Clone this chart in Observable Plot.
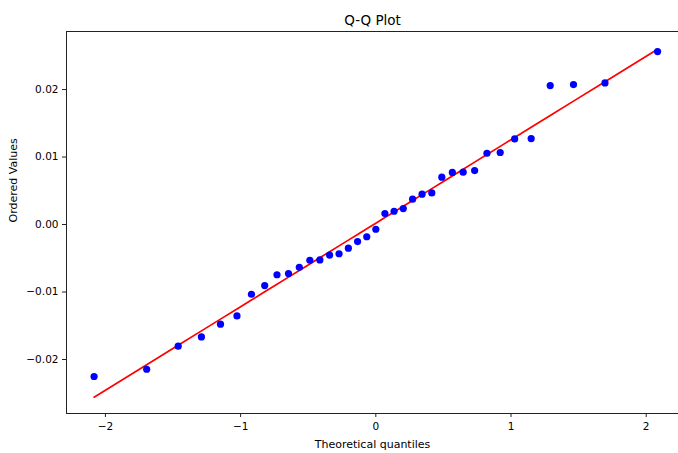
<!DOCTYPE html>
<html>
<head>
<meta charset="utf-8">
<script src="https://cdn.jsdelivr.net/npm/d3@7"></script>
<script src="https://cdn.jsdelivr.net/npm/@observablehq/plot@0.6"></script>
<style>
  html, body { margin: 0; padding: 0; background: #fff; overflow: hidden; }
  #chart svg { display: block; }
</style>
</head>
<body>
<div id="chart"></div>
<script>
// Theoretical quantiles (x)
const theoretical = [
  -2.084, -1.695, -1.462, -1.290, -1.149, -1.027, -0.920, -0.822, -0.731, -0.646,
  -0.566, -0.488, -0.414, -0.342, -0.272, -0.203, -0.135, -0.067, 0.000,
  0.067, 0.135, 0.203, 0.272, 0.342, 0.414, 0.488, 0.566, 0.646, 0.731,
  0.822, 0.920, 1.027, 1.149, 1.290, 1.462, 1.695, 2.084
];
// Ordered sample values (y)
const ordered = [
  -0.02252, -0.02144, -0.01803, -0.01665, -0.01477, -0.01354, -0.01033, -0.00904, -0.00744, -0.00726,
  -0.00633, -0.00529, -0.00524, -0.00452, -0.00433, -0.00351, -0.00252, -0.00181, -0.00070,
  0.00163, 0.00197, 0.00237, 0.00375, 0.00449, 0.00468, 0.00701, 0.00772, 0.00775, 0.00800,
  0.01056, 0.01067, 0.01268, 0.01274, 0.02059, 0.02074, 0.02098, 0.02563
];
// Fitted reference line (slope, intercept)
const fitSlope = 0.01237;
const fitIntercept = 0.00020;

const xTicks = [-2, -1, 0, 1, 2];
const yTicks = [-0.02, -0.01, 0.00, 0.01, 0.02];

const titleText = "Q-Q Plot";
const xLabel = "Theoretical quantiles";
const yLabel = "Ordered Values";

const points = theoretical.map((t, i) => ({x: t, y: ordered[i]}));
const line = theoretical.map(t => ({x: t, y: fitSlope * t + fitIntercept}));

const chart = Plot.plot({
  width: 678,
  height: 453,
  marginLeft: 66,
  marginRight: -3,
  marginTop: 31,
  marginBottom: 40,
  style: {fontFamily: "DejaVu Sans, sans-serif", fontSize: "10.5px", color: "#000", background: "#fff", overflow: "hidden"},
  x: {domain: [-2.288, 2.261]},
  y: {domain: [-0.028, 0.0286]},
  marks: [
    Plot.line(line, {x: "x", y: "y", stroke: "#ff0000", strokeWidth: 1.7}),
    Plot.dot(points, {x: "x", y: "y", r: 3.6, fill: "#0000ff", stroke: "none"}),
    Plot.frame({stroke: "#222", strokeWidth: 1}),
    Plot.axisX({ticks: xTicks, tickFormat: d => d3.format("d")(d), tickSize: 4, tickPadding: 5, label: null, stroke: "#222"}),
    Plot.axisY({ticks: yTicks, tickFormat: d3.format(".2f"), tickSize: 4, tickPadding: 4, label: null, stroke: "#222"}),
    Plot.text([titleText], {frameAnchor: "top", dx: -1.5, dy: -7, lineAnchor: "bottom", fontSize: 13.5, text: d => d}),
    Plot.text([xLabel], {frameAnchor: "bottom", dx: -1.5, dy: 34, lineAnchor: "bottom", fontSize: 11, text: d => d}),
    Plot.text([yLabel], {frameAnchor: "left", dx: -53, rotate: -90, lineAnchor: "middle", fontSize: 11, text: d => d})
  ]
});
document.getElementById("chart").appendChild(chart);
</script>
</body>
</html>
